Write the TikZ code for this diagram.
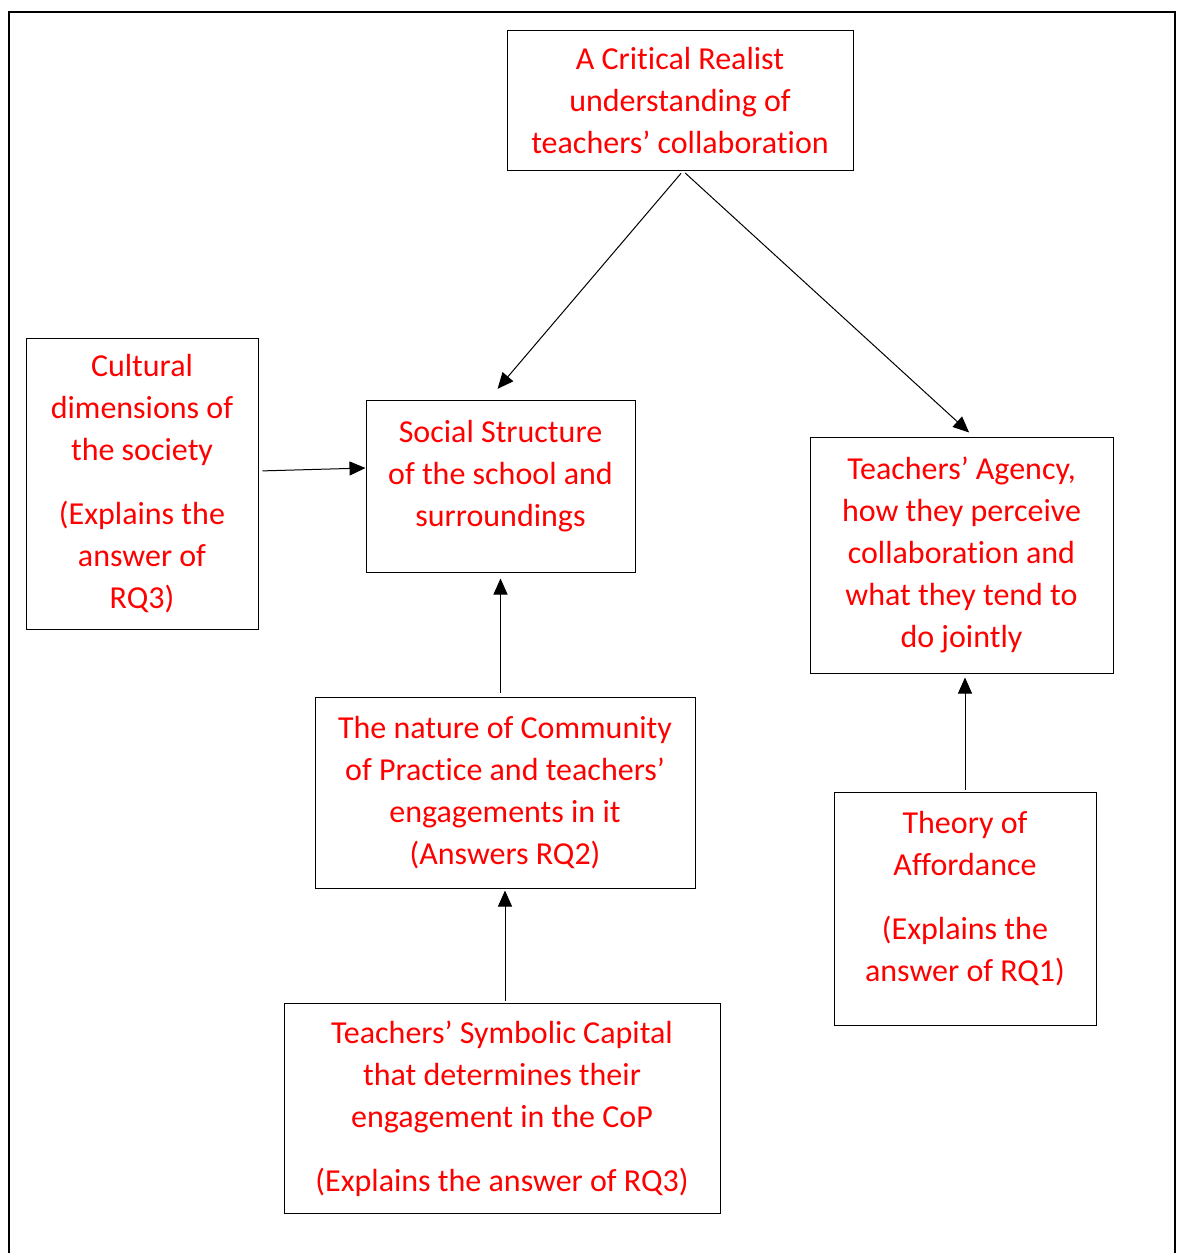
\documentclass[tikz,border=0pt]{standalone}
\usepackage{fontspec}
\setmainfont[RawFeature={-liga;-clig;-calt;-dlig}]{Carlito}
\usetikzlibrary{arrows.meta,
                positioning
                }
\definecolor{txtred}{RGB}{255,0,0}

\begin{document}
\begin{tikzpicture}[
        x = 0.5pt, y = -0.5pt,
        box/.style = {draw, line width=0.5pt, inner sep=0pt, align=center,
                      text=txtred, font=\fontsize{16}{21}\selectfont},
        link/.style = {line width=0.5pt, -{Triangle[length=8pt,width=7pt]}}
    ]
    \useasboundingbox (0,0) rectangle (1182,1253);
    % outer frame, open at the bottom
    \draw[line width=1.1pt] (9,1253) -- (9,12) -- (1175,12) -- (1175,1253);

    \node (cr) [box, minimum width=173pt, minimum height=70pt] at (680,100.5) {
        A Critical Realist\\
        understanding of\\
        teachers’ collaboration
    };
    \node (cult) [box, minimum width=116pt, minimum height=145.5pt] at (142,484) {
        Cultural\\
        dimensions of\\
        the society\\[11pt]
        (Explains the\\
        answer of\\
        RQ3)
    };
    \node (soc) [box, minimum width=134.5pt, minimum height=86pt] at (500.5,486) {
        Social Structure\\
        of the school and\\
        surroundings\\[-8pt]\mbox{}
    };
    \node (agency) [box, minimum width=151.5pt, minimum height=118pt] at (961.5,555) {
        Teachers’ Agency,\\
        how they perceive\\
        collaboration and\\
        what they tend to\\
        do jointly
    };
    \node (cop) [box, minimum width=190pt, minimum height=95.5pt] at (505,792.5) {
        The nature of Community\\
        of Practice and teachers’\\
        engagements in it\\
        (Answers RQ2)
    };
    \node (afford) [box, minimum width=131pt, minimum height=116.5pt] at (965,908.5) {
        Theory of\\
        Affordance\\[11pt]
        (Explains the\\
        answer of RQ1)\\[-9pt]\mbox{}
    };
    \node (symb) [box, minimum width=218pt, minimum height=105pt] at (502,1108.5) {
        Teachers’ Symbolic Capital\\
        that determines their\\
        engagement in the CoP\\[11pt]
        (Explains the answer of RQ3)
    };

    \draw[link, shorten <=1.5pt, shorten >=7pt] ([xshift=1.5pt]cr.south) -- ([xshift=-6pt]soc.north);
    \draw[link, shorten <=1.5pt, shorten >=3pt] ([xshift=1.5pt]cr.south) -- ([xshift=6pt]agency.north);
    \draw[link, shorten <=2pt] ([yshift=6.5pt]cult.east) -- ([yshift=9pt]soc.west);
    \draw[link, shorten <=2pt, shorten >=3pt] (soc.south |- cop.north) -- (soc.south);
    \draw[link, shorten <=1pt, shorten >=1pt] (cop.south |- symb.north) -- (cop.south);
    \draw[link, shorten <=1pt, shorten >=2pt] (afford.north) -- (afford.north |- agency.south);
\end{tikzpicture}
\end{document}
